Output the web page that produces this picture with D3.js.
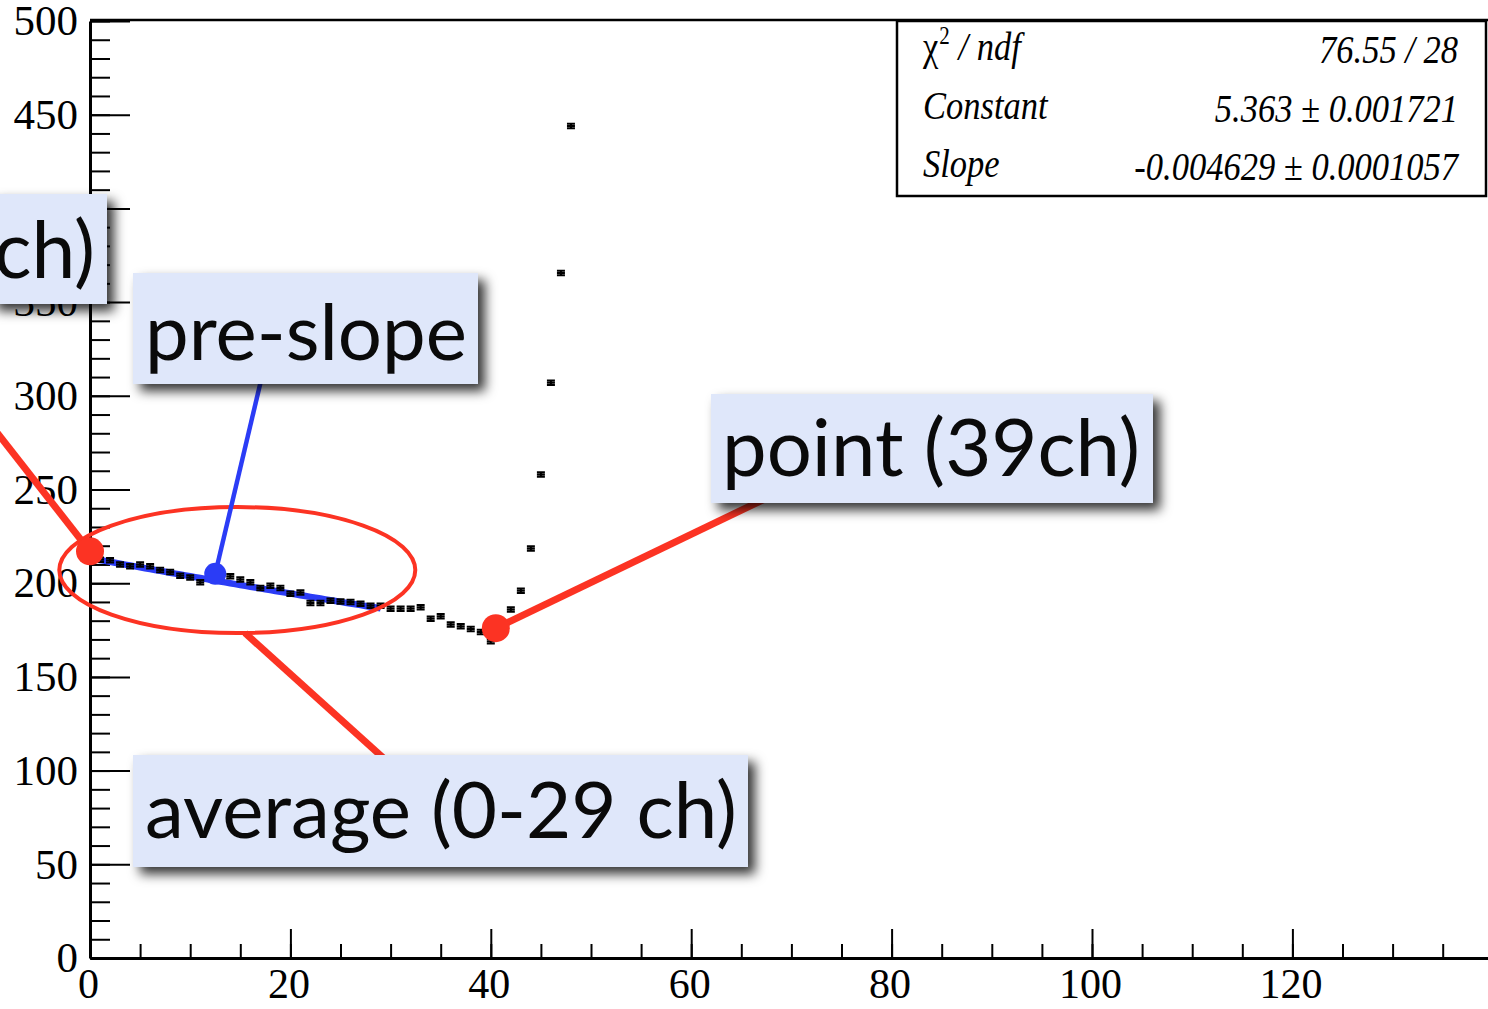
<!DOCTYPE html>
<html><head><meta charset="utf-8">
<script src="https://cdn.jsdelivr.net/npm/d3@7"></script>
<style>html,body{margin:0;padding:0;background:#fff;overflow:hidden}</style>
</head><body>
<svg id="chart" width="1488" height="1009"></svg>
<script>
// ---------------- data ----------------
const channels = [0,1,2,3,4,5,6,7,8,9,10,11,12,13,14,15,16,17,18,19,20,21,22,23,24,25,26,27,28,29,30,31,32,33,34,35,36,37,38,39,40,41,42,43,44,45,46,47,48];
const counts = [213,212.5,212.2,210,209,210,209,207,206,204,203,200.5,205,204.5,203.7,202,200.5,197.5,198.7,197.5,194.4,195.1,189.5,189.5,190.7,190.3,190,189.1,188,188,186.4,186.4,186.4,187.2,181,182.3,178,177,175.5,174,169,177,186,196,218.5,258,307,365.5,444];
const countErrors = [1.2,1.2,1.2,1.2,1.2,1.2,1.2,1.2,1.2,1.2,1.2,1.2,1.2,1.2,1.2,1.2,1.2,1.2,1.2,1.2,1.2,1.2,1.2,1.2,1.2,1.2,1.2,1.2,1.2,1.2,1.2,1.2,1.2,1.2,1.2,1.2,1.2,1.2,1.2,1.2,1.2,1.2,1.2,1.2,1.2,1.2,1.2,1.2,1.2];
const xTickValues = [0,20,40,60,80,100,120];
const yTickValues = [0,50,100,150,200,250,300,350,400,450,500];
const fitConstant = 5.363;
const fitSlope = -0.004629;
const fitRange = [0, 29];
const statNames = ["Constant", "Slope"];
const statValues = ["76.55 / 28", "5.363 ± 0.001721", "-0.004629 ± 0.0001057"];
const annotationTexts = ["ch)", "pre-slope", "point (39ch)", "average (0-29 ch)"];

// ---------------- layout ----------------
const svg = d3.select("#chart");
const x = d3.scaleLinear().domain([0, 140]).range([90, 90 + 140 * 10.02]);
const y = d3.scaleLinear().domain([0, 500]).range([958, 21]);
const serif = "'Liberation Serif','Times New Roman',serif";
const RED = "#fc3323", BLUE = "#2b3cf6";

const defs = svg.append("defs");
const f = defs.append("filter").attr("id","shadow").attr("x","-30%").attr("y","-30%").attr("width","170%").attr("height","180%");
f.append("feDropShadow").attr("dx",7).attr("dy",7).attr("stdDeviation",6).attr("flood-color","#000").attr("flood-opacity",0.8);

// top frame line
svg.append("line").attr("x1",x(0)).attr("x2",1488).attr("y1",y(500)-1).attr("y2",y(500)-1)
  .attr("stroke","#000").attr("stroke-width",2.5);

// y axis: minor + major
const gyMinor = svg.append("g").attr("transform",`translate(${x(0)},0)`)
  .call(d3.axisLeft(y).ticks(50).tickSize(-20).tickFormat(""));
gyMinor.select(".domain").remove();
gyMinor.selectAll(".tick line").attr("stroke","#000").attr("stroke-width",2);
const gy = svg.append("g").attr("transform",`translate(${x(0)},0)`)
  .call(d3.axisLeft(y).tickValues(yTickValues).tickSize(-40).tickSizeOuter(0).tickPadding(12));
gy.select(".domain").attr("stroke","#000").attr("stroke-width",3);
gy.selectAll(".tick line").attr("stroke","#000").attr("stroke-width",2);
gy.selectAll(".tick text").attr("font-family",serif).attr("font-size",43).attr("fill","#000");

// x axis: minor + major
const gxMinor = svg.append("g").attr("transform",`translate(0,${y(0)})`)
  .call(d3.axisBottom(x).ticks(28).tickSize(-14).tickFormat(""));
gxMinor.select(".domain").remove();
gxMinor.selectAll(".tick line").attr("stroke","#000").attr("stroke-width",2);
const gx = svg.append("g").attr("transform",`translate(0,${y(0)})`)
  .call(d3.axisBottom(x).tickValues(xTickValues).tickSize(-29).tickSizeOuter(0).tickPadding(10));
gx.select(".domain").attr("stroke","#000").attr("stroke-width",3);
gx.selectAll(".tick line").attr("stroke","#000").attr("stroke-width",2);
gx.selectAll(".tick text").attr("font-family",serif).attr("font-size",42).attr("fill","#000").attr("dx",-2);

// fit line
const fitXs = d3.range(fitRange[0], fitRange[1] + 0.001, 0.5);
svg.append("path")
  .attr("d", d3.line().x(d => x(d)).y(d => y(Math.exp(fitConstant + fitSlope * d)))(fitXs))
  .attr("fill","none").attr("stroke",BLUE).attr("stroke-width",6.5);

// data points with error bars
const pts = channels.map((c,i)=>({c, v:counts[i], e:countErrors[i]}));
const gp = svg.append("g").attr("stroke","#000").attr("stroke-width",2).attr("fill","none");
pts.forEach(p=>{
  const cx = x(p.c), y1 = y(p.v + p.e), y2 = y(p.v - p.e), ym = y(p.v);
  gp.append("path").attr("d",
    `M${cx-4},${y1}H${cx+4}M${cx-4},${y2}H${cx+4}M${cx},${y1}V${y2}M${cx-4},${ym}H${cx+4}`);
});

// stats box
const sb = svg.append("g");
sb.append("rect").attr("x",897).attr("y",21).attr("width",589).attr("height",175)
  .attr("fill","#fff").attr("stroke","#000").attr("stroke-width",2.5);
const statRowsY = [63, 122, 180];
function stretched(g, tx, ty, anchor){
  return g.append("text").attr("transform",`translate(${tx},${ty}) scale(1,1.16)`)
    .attr("text-anchor",anchor).attr("font-family",serif).attr("font-size",34.5).attr("fill","#000");
}
const chi = stretched(sb, 923, statRowsY[0]-3, "start");
chi.append("tspan").text("χ");
chi.append("tspan").attr("font-size",21).attr("dy",-14).attr("dx",1).text("2");
chi.append("tspan").attr("dy",14).attr("font-style","italic").text(" / ndf");
statNames.forEach((n,i)=>{
  stretched(sb, 923, statRowsY[i+1]-3, "start").attr("font-style","italic").text(n);
});
statValues.forEach((v,i)=>{
  stretched(sb, 1458, statRowsY[i], "end").attr("font-style","italic").text(v);
});

// ---------------- annotations ----------------
const ann = svg.append("g");
ann.append("ellipse").attr("cx",x(14.7)).attr("cy",y(207)).attr("rx",178).attr("ry",63)
  .attr("fill","none").attr("stroke",RED).attr("stroke-width",4);
ann.append("line").attr("x1",-5).attr("y1",430).attr("x2",x(0)).attr("y2",y(217))
  .attr("stroke",RED).attr("stroke-width",7);
ann.append("line").attr("x1",245).attr("y1",633).attr("x2",400).attr("y2",773)
  .attr("stroke",RED).attr("stroke-width",7);
ann.append("line").attr("x1",x(40.5)).attr("y1",y(176)).attr("x2",800).attr("y2",482)
  .attr("stroke",RED).attr("stroke-width",7);
ann.append("line").attr("x1",x(12.5)).attr("y1",y(205)).attr("x2",263).attr("y2",372)
  .attr("stroke",BLUE).attr("stroke-width",4.5);
ann.append("circle").attr("cx",x(0)).attr("cy",y(217)).attr("r",14).attr("fill",RED);
ann.append("circle").attr("cx",x(40.5)).attr("cy",y(176)).attr("r",14).attr("fill",RED);
ann.append("circle").attr("cx",x(12.5)).attr("cy",y(205)).attr("r",11).attr("fill",BLUE);

const labelFont = "Lato,'Open Sans','Noto Sans',sans-serif";
const boxes = [
  {t:annotationTexts[0], bx:-10, by:194, bw:117, bh:110, tx:95, ty:278, anchor:"end"},
  {t:annotationTexts[1], bx:133, by:273, bw:345, bh:111, tx:145, ty:360, w:322},
  {t:annotationTexts[2], bx:711, by:394, bw:442, bh:109, tx:722, ty:476, w:418},
  {t:annotationTexts[3], bx:133, by:755, bw:615, bh:112, tx:145, ty:838, w:592}
];
boxes.forEach(b=>{
  const g = ann.append("g");
  g.append("rect").attr("x",b.bx).attr("y",b.by).attr("width",b.bw).attr("height",b.bh)
    .attr("fill","#dfe7fa").attr("filter","url(#shadow)");
  b.node = g.append("text").attr("x",b.tx).attr("y",b.ty).attr("font-family",labelFont)
    .attr("font-size",72).attr("fill","#0a0a0a").attr("text-anchor",b.anchor||"start").text(b.t);
});
const sizes = [];
boxes.slice(1).forEach(b=>{
  const w = b.node.node().getComputedTextLength();
  const fs = 72 * b.w / w;
  b.node.attr("font-size", fs);
  sizes.push(fs);
});
boxes[0].node.attr("font-size", d3.mean(sizes));
</script>
</body></html>
